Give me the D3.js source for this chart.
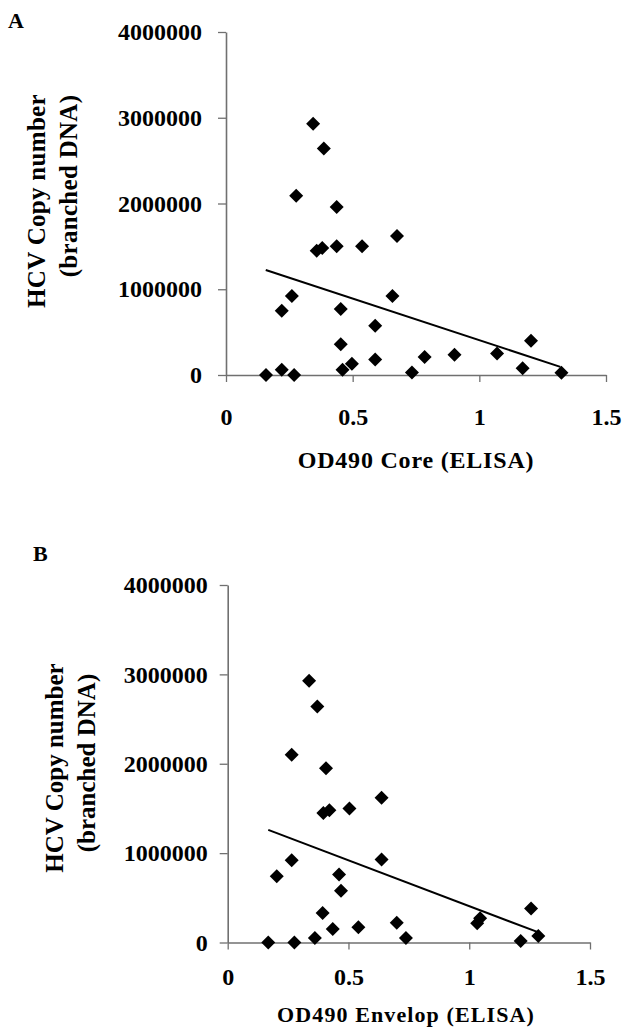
<!DOCTYPE html>
<html>
<head>
<meta charset="utf-8">
<script src="https://cdn.jsdelivr.net/npm/d3@7"></script>
<style>
  body { margin: 0; background: #fff; }
  svg text { font-family: "Liberation Serif", "Times New Roman", serif; font-weight: bold; fill: #000; }
</style>
</head>
<body>
<div id="chart"></div>
<script>
/* Values. OD490 on x, copy number on y. */
let coreOD = [0.158, 0.22, 0.269, 0.26, 0.22, 0.277, 0.344, 0.386, 0.437, 0.358,
              0.38, 0.437, 0.537, 0.453, 0.453, 0.46, 0.497, 0.589, 0.589, 0.657,
              0.675, 0.734, 0.784, 0.902, 1.07, 1.204, 1.171, 1.324];
let coreCopies = [0, 60000, 0, 920000, 750000, 2090000, 2930000, 2640000, 1960000, 1450000,
                  1480000, 1500000, 1500000, 770000, 360000, 60000, 130000, 575000, 180000, 920000,
                  1620000, 30000, 210000, 235000, 250000, 400000, 78000, 27000];

let envOD = [0.337, 0.371, 0.265, 0.407, 0.396, 0.421, 0.504, 0.637, 0.265, 0.203,
             0.461, 0.469, 0.637, 0.168, 0.276, 0.361, 0.393, 0.435, 0.541, 0.7,
             0.738, 1.033, 1.045, 1.213, 1.256, 1.286];
let envCopies = [2930000, 2640000, 2100000, 1950000, 1450000, 1480000, 1500000, 1620000, 920000, 740000,
                 760000, 580000, 930000, 0, 0, 50000, 330000, 150000, 170000, 220000,
                 50000, 215000, 270000, 17000, 380000, 73000];

/* Trend line end points as drawn in the figure. */
let coreTrend = [[0.157, 1225000], [1.32, 95000]];
let envTrend = [[0.168, 1260000], [1.29, 110000]];

let xTicks = [0, 0.5, 1, 1.5];
let yTicks = [0, 1000000, 2000000, 3000000, 4000000];
let yTitle = ["HCV Copy number", "(branched DNA)"];

let width = 624, height = 1030;

let svg = d3.select("#chart").append("svg")
    .attr("width", width)
    .attr("height", height);

/* Draw one panel. `box` holds pixel placement of the plot area and texts. */
function panel(box, xs, ys, trend, label, xTitle) {
    let xscale = d3.scaleLinear().domain([0, 1.5]).range([box.left, box.right]);
    let yscale = d3.scaleLinear().domain([0, 4000000]).range([box.bottom, box.top]);

    let g = svg.append("g");

    /* axes */
    let xaxis = d3.axisBottom(xscale).tickValues(xTicks)
        .tickFormat(d => String(d)).tickSizeInner(7).tickSizeOuter(0).tickPadding(box.xpad);
    let yaxis = d3.axisLeft(yscale).tickValues(yTicks)
        .tickFormat(d3.format("d")).tickSizeInner(8).tickSizeOuter(0).tickPadding(box.ypad);

    let gx = g.append("g")
        .attr("transform", "translate(0," + box.bottom + ")")
        .call(xaxis);
    let gy = g.append("g")
        .attr("transform", "translate(" + box.left + ",0)")
        .call(yaxis);
    for (let a of [gx, gy]) {
        a.select(".domain").attr("stroke", "#707070").attr("stroke-width", 1.6);
        a.selectAll(".tick line").attr("stroke", "#707070").attr("stroke-width", 1.3);
        a.selectAll(".tick text")
            .style("font-size", "24px")
            .style("font-family", "'Liberation Serif', 'Times New Roman', serif")
            .style("font-weight", "bold")
            .attr("fill", "#000");
    }

    /* trend line */
    let line = d3.line().x(d => xscale(d[0])).y(d => yscale(d[1]));
    g.append("path")
        .attr("d", line(trend))
        .attr("stroke", "#000")
        .attr("stroke-width", 2)
        .attr("fill", "none");

    /* diamond markers */
    let diamond = d3.symbol(d3.symbolSquare).size(98);
    g.selectAll("path.pt")
        .data(d3.zip(xs, ys))
        .enter()
        .append("path")
            .attr("class", "pt")
            .attr("d", diamond)
            .attr("transform", d => "translate(" + xscale(d[0]) + "," + yscale(d[1]) + ") rotate(45)")
            .attr("fill", "#000");

    /* panel letter */
    g.append("text")
        .attr("x", box.labelX)
        .attr("y", box.labelY)
        .style("font-size", "22px")
        .text(label);

    /* x title */
    g.append("text")
        .attr("x", box.xTitleX)
        .attr("y", box.xTitleY)
        .attr("text-anchor", "middle")
        .style("font-size", box.xTitleSize + "px")
        .style("letter-spacing", box.xTitleSpacing + "px")
        .text(xTitle);

    /* y title, two rotated lines */
    yTitle.forEach(function(t, i) {
        g.append("text")
            .attr("transform", "translate(" + box.yTitleX[i] + "," + box.yTitleY[i] + ") rotate(-90)")
            .attr("text-anchor", "middle")
            .style("font-size", "25px")
            .style("letter-spacing", box.yTitleSpacing + "px")
            .text(t);
    });
}

panel({
    left: 226, right: 606, top: 32, bottom: 375,
    xpad: 26, ypad: 16,
    labelX: 8, labelY: 28,
    xTitleX: 416, xTitleY: 468, xTitleSize: 24, xTitleSpacing: 0.8,
    yTitleX: [45, 77], yTitleY: [201, 186], yTitleSpacing: 0.3
}, coreOD, coreCopies, coreTrend, "A", "OD490 Core (ELISA)");

panel({
    left: 227.7, right: 590, top: 585, bottom: 942.5,
    xpad: 18, ypad: 12,
    labelX: 33, labelY: 561,
    xTitleX: 406, xTitleY: 1022, xTitleSize: 22, xTitleSpacing: 1.1,
    yTitleX: [63, 95], yTitleY: [768, 763], yTitleSpacing: 0
}, envOD, envCopies, envTrend, "B", "OD490 Envelop (ELISA)");
</script>
</body>
</html>
